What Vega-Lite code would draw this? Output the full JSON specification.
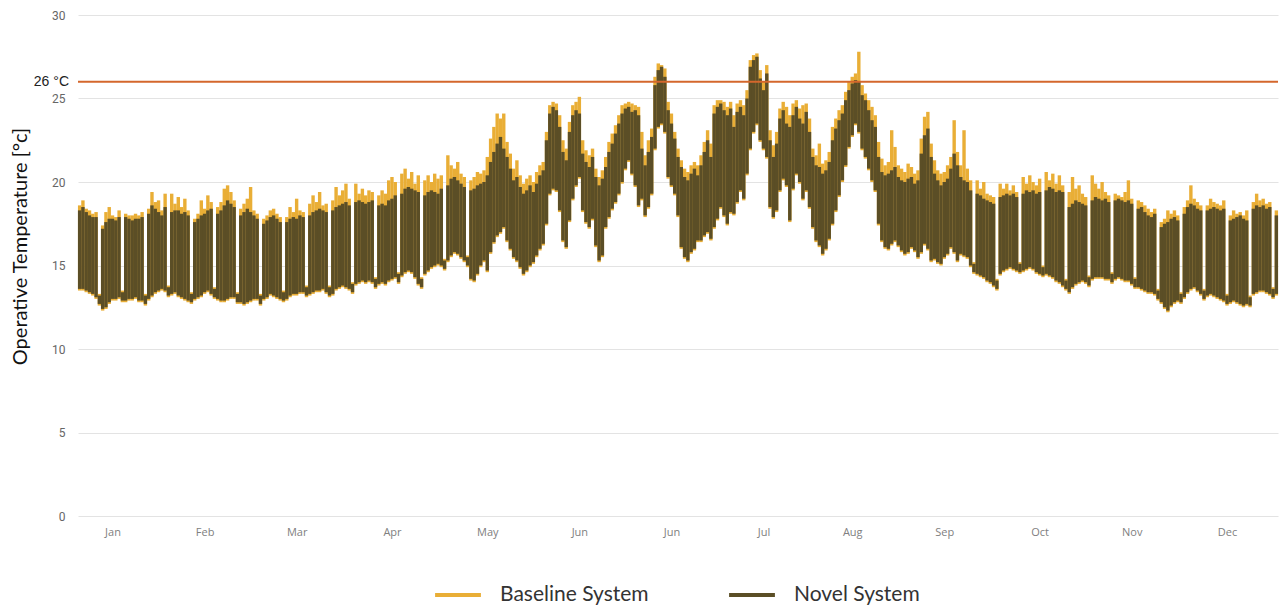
{
"$schema": "https://vega.github.io/schema/vega-lite/v6.json",
"width": 1200,
"height": 501,
"autosize": {"type": "none"},
"padding": {"left": 78, "top": 15, "right": 2, "bottom": 94},
"background": "white",
"config": {"view": {"stroke": null}, "font": "Lato"},
"data": {"values": [
{"day":0,"nLo":13.6,"nHi":18.3,"bLo":13.5,"bHi":18.6},
{"day":1,"nLo":13.6,"nHi":18.5,"bLo":13.5,"bHi":18.9},
{"day":2,"nLo":13.5,"nHi":18.2,"bLo":13.4,"bHi":18.4},
{"day":3,"nLo":13.4,"nHi":18.0,"bLo":13.3,"bHi":18.3},
{"day":4,"nLo":13.3,"nHi":17.9,"bLo":13.2,"bHi":18.1},
{"day":5,"nLo":13.1,"nHi":17.9,"bLo":13.0,"bHi":18.2},
{"day":6,"nLo":12.7,"nHi":13.2,"bLo":12.6,"bHi":13.3},
{"day":7,"nLo":12.4,"nHi":17.2,"bLo":12.3,"bHi":17.4},
{"day":8,"nLo":12.5,"nHi":17.6,"bLo":12.4,"bHi":18.2},
{"day":9,"nLo":12.8,"nHi":17.8,"bLo":12.7,"bHi":18.5},
{"day":10,"nLo":13.0,"nHi":17.8,"bLo":12.9,"bHi":18.0},
{"day":11,"nLo":13.0,"nHi":17.7,"bLo":12.9,"bHi":17.9},
{"day":12,"nLo":13.1,"nHi":17.9,"bLo":13.0,"bHi":18.3},
{"day":13,"nLo":12.9,"nHi":13.4,"bLo":12.8,"bHi":13.5},
{"day":14,"nLo":12.9,"nHi":17.9,"bLo":12.8,"bHi":18.1},
{"day":15,"nLo":13.0,"nHi":17.8,"bLo":12.9,"bHi":18.0},
{"day":16,"nLo":13.0,"nHi":17.7,"bLo":12.9,"bHi":18.0},
{"day":17,"nLo":13.1,"nHi":17.8,"bLo":13.0,"bHi":18.1},
{"day":18,"nLo":12.9,"nHi":17.8,"bLo":12.8,"bHi":18.0},
{"day":19,"nLo":12.9,"nHi":17.9,"bLo":12.8,"bHi":18.2},
{"day":20,"nLo":12.7,"nHi":13.2,"bLo":12.6,"bHi":13.3},
{"day":21,"nLo":13.0,"nHi":18.1,"bLo":12.9,"bHi":18.4},
{"day":22,"nLo":13.2,"nHi":18.6,"bLo":13.1,"bHi":19.4},
{"day":23,"nLo":13.4,"nHi":18.4,"bLo":13.3,"bHi":18.8},
{"day":24,"nLo":13.5,"nHi":18.2,"bLo":13.4,"bHi":18.9},
{"day":25,"nLo":13.6,"nHi":18.0,"bLo":13.5,"bHi":18.3},
{"day":26,"nLo":13.5,"nHi":18.5,"bLo":13.4,"bHi":19.3},
{"day":27,"nLo":13.2,"nHi":13.7,"bLo":13.1,"bHi":13.8},
{"day":28,"nLo":13.3,"nHi":18.2,"bLo":13.2,"bHi":19.3},
{"day":29,"nLo":13.4,"nHi":18.3,"bLo":13.3,"bHi":18.7},
{"day":30,"nLo":13.2,"nHi":18.3,"bLo":13.1,"bHi":19.1},
{"day":31,"nLo":13.1,"nHi":18.1,"bLo":13.0,"bHi":18.5},
{"day":32,"nLo":13.0,"nHi":18.2,"bLo":12.9,"bHi":19.0},
{"day":33,"nLo":12.9,"nHi":18.0,"bLo":12.8,"bHi":18.3},
{"day":34,"nLo":12.8,"nHi":13.3,"bLo":12.7,"bHi":13.4},
{"day":35,"nLo":13.0,"nHi":17.6,"bLo":12.9,"bHi":17.8},
{"day":36,"nLo":13.1,"nHi":17.8,"bLo":13.0,"bHi":18.1},
{"day":37,"nLo":13.2,"nHi":18.0,"bLo":13.1,"bHi":18.9},
{"day":38,"nLo":13.4,"nHi":18.1,"bLo":13.3,"bHi":18.4},
{"day":39,"nLo":13.5,"nHi":18.3,"bLo":13.4,"bHi":19.2},
{"day":40,"nLo":13.3,"nHi":18.4,"bLo":13.2,"bHi":18.8},
{"day":41,"nLo":13.1,"nHi":13.6,"bLo":13.0,"bHi":13.7},
{"day":42,"nLo":13.0,"nHi":18.1,"bLo":12.9,"bHi":18.5},
{"day":43,"nLo":12.9,"nHi":18.3,"bLo":12.8,"bHi":18.8},
{"day":44,"nLo":12.9,"nHi":18.6,"bLo":12.8,"bHi":19.6},
{"day":45,"nLo":13.0,"nHi":18.9,"bLo":12.9,"bHi":19.8},
{"day":46,"nLo":13.1,"nHi":18.7,"bLo":13.0,"bHi":19.4},
{"day":47,"nLo":13.1,"nHi":18.5,"bLo":13.0,"bHi":18.9},
{"day":48,"nLo":12.8,"nHi":13.3,"bLo":12.7,"bHi":13.4},
{"day":49,"nLo":12.8,"nHi":18.0,"bLo":12.7,"bHi":18.4},
{"day":50,"nLo":12.7,"nHi":18.2,"bLo":12.6,"bHi":18.7},
{"day":51,"nLo":12.8,"nHi":18.4,"bLo":12.7,"bHi":19.0},
{"day":52,"nLo":12.9,"nHi":18.2,"bLo":12.8,"bHi":19.7},
{"day":53,"nLo":13.0,"nHi":18.0,"bLo":12.9,"bHi":18.3},
{"day":54,"nLo":13.0,"nHi":17.8,"bLo":12.9,"bHi":18.1},
{"day":55,"nLo":12.7,"nHi":13.2,"bLo":12.6,"bHi":13.3},
{"day":56,"nLo":13.0,"nHi":17.5,"bLo":12.9,"bHi":17.8},
{"day":57,"nLo":13.1,"nHi":17.7,"bLo":13.0,"bHi":18.0},
{"day":58,"nLo":13.3,"nHi":17.9,"bLo":13.2,"bHi":18.3},
{"day":59,"nLo":13.2,"nHi":18.0,"bLo":13.1,"bHi":18.4},
{"day":60,"nLo":13.1,"nHi":17.8,"bLo":13.0,"bHi":18.1},
{"day":61,"nLo":13.0,"nHi":17.6,"bLo":12.9,"bHi":17.9},
{"day":62,"nLo":12.9,"nHi":13.4,"bLo":12.8,"bHi":13.5},
{"day":63,"nLo":13.0,"nHi":17.6,"bLo":12.9,"bHi":17.9},
{"day":64,"nLo":13.2,"nHi":17.8,"bLo":13.1,"bHi":18.5},
{"day":65,"nLo":13.3,"nHi":17.9,"bLo":13.2,"bHi":18.2},
{"day":66,"nLo":13.3,"nHi":17.8,"bLo":13.2,"bHi":19.0},
{"day":67,"nLo":13.4,"nHi":18.0,"bLo":13.3,"bHi":18.3},
{"day":68,"nLo":13.4,"nHi":17.9,"bLo":13.3,"bHi":18.2},
{"day":69,"nLo":13.2,"nHi":13.7,"bLo":13.1,"bHi":13.8},
{"day":70,"nLo":13.3,"nHi":18.0,"bLo":13.2,"bHi":18.7},
{"day":71,"nLo":13.4,"nHi":18.2,"bLo":13.3,"bHi":19.2},
{"day":72,"nLo":13.5,"nHi":18.3,"bLo":13.4,"bHi":18.8},
{"day":73,"nLo":13.5,"nHi":18.4,"bLo":13.4,"bHi":19.4},
{"day":74,"nLo":13.6,"nHi":18.3,"bLo":13.5,"bHi":18.6},
{"day":75,"nLo":13.4,"nHi":18.2,"bLo":13.3,"bHi":18.7},
{"day":76,"nLo":13.2,"nHi":13.7,"bLo":13.1,"bHi":13.8},
{"day":77,"nLo":13.3,"nHi":18.3,"bLo":13.2,"bHi":18.9},
{"day":78,"nLo":13.6,"nHi":18.5,"bLo":13.5,"bHi":19.7},
{"day":79,"nLo":13.7,"nHi":18.6,"bLo":13.6,"bHi":19.2},
{"day":80,"nLo":13.8,"nHi":18.7,"bLo":13.7,"bHi":19.5},
{"day":81,"nLo":13.7,"nHi":18.8,"bLo":13.6,"bHi":19.9},
{"day":82,"nLo":13.6,"nHi":18.6,"bLo":13.5,"bHi":19.0},
{"day":83,"nLo":13.4,"nHi":13.9,"bLo":13.3,"bHi":14.0},
{"day":84,"nLo":13.9,"nHi":18.8,"bLo":13.8,"bHi":19.9},
{"day":85,"nLo":14.0,"nHi":18.9,"bLo":13.9,"bHi":19.3},
{"day":86,"nLo":14.1,"nHi":18.8,"bLo":14.0,"bHi":19.6},
{"day":87,"nLo":14.0,"nHi":18.7,"bLo":13.9,"bHi":19.2},
{"day":88,"nLo":14.1,"nHi":18.8,"bLo":14.0,"bHi":19.5},
{"day":89,"nLo":14.0,"nHi":18.9,"bLo":13.9,"bHi":19.4},
{"day":90,"nLo":13.7,"nHi":14.2,"bLo":13.6,"bHi":14.3},
{"day":91,"nLo":13.9,"nHi":18.6,"bLo":13.8,"bHi":19.2},
{"day":92,"nLo":14.0,"nHi":18.7,"bLo":13.9,"bHi":19.5},
{"day":93,"nLo":13.9,"nHi":18.6,"bLo":13.8,"bHi":19.3},
{"day":94,"nLo":14.1,"nHi":18.9,"bLo":14.0,"bHi":20.1},
{"day":95,"nLo":14.2,"nHi":19.0,"bLo":14.1,"bHi":20.3},
{"day":96,"nLo":14.3,"nHi":19.2,"bLo":14.2,"bHi":20.0},
{"day":97,"nLo":14.0,"nHi":14.5,"bLo":13.9,"bHi":14.6},
{"day":98,"nLo":14.4,"nHi":19.3,"bLo":14.3,"bHi":20.5},
{"day":99,"nLo":14.6,"nHi":19.6,"bLo":14.5,"bHi":20.8},
{"day":100,"nLo":14.7,"nHi":19.7,"bLo":14.6,"bHi":20.2},
{"day":101,"nLo":14.6,"nHi":19.6,"bLo":14.5,"bHi":20.6},
{"day":102,"nLo":14.3,"nHi":19.5,"bLo":14.2,"bHi":19.9},
{"day":103,"nLo":13.9,"nHi":19.4,"bLo":13.8,"bHi":20.4},
{"day":104,"nLo":13.7,"nHi":14.2,"bLo":13.6,"bHi":14.3},
{"day":105,"nLo":14.5,"nHi":19.2,"bLo":14.4,"bHi":20.1},
{"day":106,"nLo":14.7,"nHi":19.4,"bLo":14.6,"bHi":20.4},
{"day":107,"nLo":14.9,"nHi":19.5,"bLo":14.8,"bHi":20.0},
{"day":108,"nLo":15.0,"nHi":19.4,"bLo":14.9,"bHi":20.5},
{"day":109,"nLo":15.1,"nHi":19.3,"bLo":15.0,"bHi":20.2},
{"day":110,"nLo":15.0,"nHi":19.6,"bLo":14.9,"bHi":20.4},
{"day":111,"nLo":14.8,"nHi":15.3,"bLo":14.7,"bHi":15.4},
{"day":112,"nLo":15.3,"nHi":19.8,"bLo":15.2,"bHi":21.6},
{"day":113,"nLo":15.6,"nHi":20.2,"bLo":15.5,"bHi":21.0},
{"day":114,"nLo":15.8,"nHi":20.3,"bLo":15.7,"bHi":20.8},
{"day":115,"nLo":15.7,"nHi":20.1,"bLo":15.6,"bHi":21.2},
{"day":116,"nLo":15.5,"nHi":19.9,"bLo":15.4,"bHi":20.5},
{"day":117,"nLo":15.3,"nHi":19.7,"bLo":15.2,"bHi":20.3},
{"day":118,"nLo":15.0,"nHi":15.5,"bLo":14.9,"bHi":15.6},
{"day":119,"nLo":14.2,"nHi":19.5,"bLo":14.1,"bHi":20.1},
{"day":120,"nLo":14.1,"nHi":19.6,"bLo":14.0,"bHi":20.3},
{"day":121,"nLo":14.5,"nHi":19.8,"bLo":14.4,"bHi":20.6},
{"day":122,"nLo":15.0,"nHi":19.9,"bLo":14.9,"bHi":20.5},
{"day":123,"nLo":15.3,"nHi":20.0,"bLo":15.2,"bHi":20.7},
{"day":124,"nLo":14.7,"nHi":20.4,"bLo":14.6,"bHi":21.5},
{"day":125,"nLo":15.8,"nHi":21.2,"bLo":15.7,"bHi":22.6},
{"day":126,"nLo":16.4,"nHi":21.8,"bLo":16.3,"bHi":23.3},
{"day":127,"nLo":16.8,"nHi":22.3,"bLo":16.7,"bHi":24.1},
{"day":128,"nLo":17.0,"nHi":22.7,"bLo":16.9,"bHi":23.8},
{"day":129,"nLo":17.3,"nHi":22.0,"bLo":17.2,"bHi":24.1},
{"day":130,"nLo":16.5,"nHi":21.5,"bLo":16.4,"bHi":22.4},
{"day":131,"nLo":16.0,"nHi":20.8,"bLo":15.9,"bHi":21.7},
{"day":132,"nLo":15.5,"nHi":20.1,"bLo":15.4,"bHi":20.8},
{"day":133,"nLo":15.3,"nHi":20.3,"bLo":15.2,"bHi":21.3},
{"day":134,"nLo":14.9,"nHi":19.7,"bLo":14.8,"bHi":20.4},
{"day":135,"nLo":14.5,"nHi":19.3,"bLo":14.4,"bHi":19.9},
{"day":136,"nLo":14.7,"nHi":19.5,"bLo":14.6,"bHi":20.2},
{"day":137,"nLo":15.0,"nHi":19.8,"bLo":14.9,"bHi":20.4},
{"day":138,"nLo":15.2,"nHi":19.4,"bLo":15.1,"bHi":20.0},
{"day":139,"nLo":15.6,"nHi":19.9,"bLo":15.5,"bHi":20.6},
{"day":140,"nLo":16.0,"nHi":20.4,"bLo":15.9,"bHi":21.0},
{"day":141,"nLo":16.3,"nHi":20.7,"bLo":16.2,"bHi":21.2},
{"day":142,"nLo":17.5,"nHi":22.5,"bLo":17.4,"bHi":23.0},
{"day":143,"nLo":19.3,"nHi":24.1,"bLo":19.2,"bHi":24.6},
{"day":144,"nLo":19.6,"nHi":24.5,"bLo":19.5,"bHi":24.8},
{"day":145,"nLo":19.5,"nHi":24.3,"bLo":19.4,"bHi":24.7},
{"day":146,"nLo":18.3,"nHi":23.3,"bLo":18.2,"bHi":24.0},
{"day":147,"nLo":16.5,"nHi":21.8,"bLo":16.4,"bHi":22.5},
{"day":148,"nLo":16.1,"nHi":21.3,"bLo":16.0,"bHi":22.0},
{"day":149,"nLo":17.7,"nHi":23.0,"bLo":17.6,"bHi":23.6},
{"day":150,"nLo":19.0,"nHi":24.0,"bLo":18.9,"bHi":24.6},
{"day":151,"nLo":19.8,"nHi":24.3,"bLo":19.7,"bHi":24.8},
{"day":152,"nLo":20.3,"nHi":24.1,"bLo":20.2,"bHi":25.1},
{"day":153,"nLo":18.3,"nHi":21.7,"bLo":18.2,"bHi":22.5},
{"day":154,"nLo":17.6,"nHi":21.2,"bLo":17.5,"bHi":21.9},
{"day":155,"nLo":17.3,"nHi":20.9,"bLo":17.2,"bHi":21.6},
{"day":156,"nLo":17.8,"nHi":21.5,"bLo":17.7,"bHi":22.0},
{"day":157,"nLo":16.2,"nHi":20.3,"bLo":16.1,"bHi":20.8},
{"day":158,"nLo":15.3,"nHi":19.8,"bLo":15.2,"bHi":20.3},
{"day":159,"nLo":15.6,"nHi":20.2,"bLo":15.5,"bHi":20.7},
{"day":160,"nLo":17.3,"nHi":20.9,"bLo":17.2,"bHi":21.5},
{"day":161,"nLo":17.9,"nHi":21.8,"bLo":17.8,"bHi":22.4},
{"day":162,"nLo":18.4,"nHi":22.3,"bLo":18.3,"bHi":22.9},
{"day":163,"nLo":18.8,"nHi":22.9,"bLo":18.7,"bHi":23.4},
{"day":164,"nLo":19.3,"nHi":23.5,"bLo":19.2,"bHi":24.0},
{"day":165,"nLo":20.0,"nHi":24.1,"bLo":19.9,"bHi":24.6},
{"day":166,"nLo":20.8,"nHi":24.4,"bLo":20.7,"bHi":24.7},
{"day":167,"nLo":21.3,"nHi":24.5,"bLo":21.2,"bHi":24.8},
{"day":168,"nLo":20.5,"nHi":24.2,"bLo":20.4,"bHi":24.7},
{"day":169,"nLo":19.8,"nHi":24.3,"bLo":19.7,"bHi":24.6},
{"day":170,"nLo":18.6,"nHi":24.0,"bLo":18.5,"bHi":24.5},
{"day":171,"nLo":19.0,"nHi":22.0,"bLo":18.9,"bHi":23.0},
{"day":172,"nLo":18.0,"nHi":21.0,"bLo":17.9,"bHi":21.6},
{"day":173,"nLo":18.5,"nHi":21.8,"bLo":18.4,"bHi":22.5},
{"day":174,"nLo":19.3,"nHi":22.7,"bLo":19.2,"bHi":23.2},
{"day":175,"nLo":22.0,"nHi":25.8,"bLo":21.9,"bHi":26.3},
{"day":176,"nLo":23.3,"nHi":26.7,"bLo":23.2,"bHi":27.1},
{"day":177,"nLo":23.5,"nHi":26.9,"bLo":23.4,"bHi":27.0},
{"day":178,"nLo":23.0,"nHi":26.3,"bLo":22.9,"bHi":26.8},
{"day":179,"nLo":20.3,"nHi":24.3,"bLo":20.2,"bHi":24.8},
{"day":180,"nLo":19.8,"nHi":23.5,"bLo":19.7,"bHi":24.1},
{"day":181,"nLo":19.3,"nHi":22.6,"bLo":19.2,"bHi":23.0},
{"day":182,"nLo":18.0,"nHi":21.5,"bLo":17.9,"bHi":22.0},
{"day":183,"nLo":16.1,"nHi":20.9,"bLo":16.0,"bHi":21.3},
{"day":184,"nLo":15.5,"nHi":20.3,"bLo":15.4,"bHi":20.8},
{"day":185,"nLo":15.3,"nHi":20.1,"bLo":15.2,"bHi":20.6},
{"day":186,"nLo":15.8,"nHi":20.5,"bLo":15.7,"bHi":21.0},
{"day":187,"nLo":16.0,"nHi":20.8,"bLo":15.9,"bHi":21.2},
{"day":188,"nLo":16.5,"nHi":20.4,"bLo":16.4,"bHi":21.0},
{"day":189,"nLo":16.5,"nHi":21.0,"bLo":16.4,"bHi":21.6},
{"day":190,"nLo":16.8,"nHi":21.8,"bLo":16.7,"bHi":22.4},
{"day":191,"nLo":17.0,"nHi":22.5,"bLo":16.9,"bHi":23.1},
{"day":192,"nLo":16.6,"nHi":21.5,"bLo":16.5,"bHi":22.3},
{"day":193,"nLo":17.3,"nHi":24.1,"bLo":17.2,"bHi":24.6},
{"day":194,"nLo":17.8,"nHi":24.5,"bLo":17.7,"bHi":24.9},
{"day":195,"nLo":18.5,"nHi":24.7,"bLo":18.4,"bHi":24.9},
{"day":196,"nLo":18.0,"nHi":24.3,"bLo":17.9,"bHi":24.8},
{"day":197,"nLo":17.5,"nHi":24.0,"bLo":17.4,"bHi":24.5},
{"day":198,"nLo":18.2,"nHi":24.4,"bLo":18.1,"bHi":24.8},
{"day":199,"nLo":18.1,"nHi":23.3,"bLo":18.0,"bHi":24.0},
{"day":200,"nLo":18.8,"nHi":24.2,"bLo":18.7,"bHi":24.7},
{"day":201,"nLo":19.5,"nHi":24.5,"bLo":19.4,"bHi":24.9},
{"day":202,"nLo":19.0,"nHi":24.0,"bLo":18.9,"bHi":24.6},
{"day":203,"nLo":20.5,"nHi":25.0,"bLo":20.4,"bHi":25.5},
{"day":204,"nLo":22.0,"nHi":26.9,"bLo":21.9,"bHi":27.3},
{"day":205,"nLo":23.0,"nHi":27.3,"bLo":22.9,"bHi":27.6},
{"day":206,"nLo":23.5,"nHi":27.5,"bLo":23.4,"bHi":27.7},
{"day":207,"nLo":22.5,"nHi":26.2,"bLo":22.4,"bHi":26.7},
{"day":208,"nLo":22.0,"nHi":25.5,"bLo":21.9,"bHi":26.0},
{"day":209,"nLo":21.5,"nHi":26.5,"bLo":21.4,"bHi":27.0},
{"day":210,"nLo":18.5,"nHi":22.5,"bLo":18.4,"bHi":23.1},
{"day":211,"nLo":17.9,"nHi":21.5,"bLo":17.8,"bHi":22.2},
{"day":212,"nLo":18.3,"nHi":22.3,"bLo":18.2,"bHi":23.0},
{"day":213,"nLo":19.5,"nHi":23.8,"bLo":19.4,"bHi":24.4},
{"day":214,"nLo":20.2,"nHi":24.3,"bLo":20.1,"bHi":24.8},
{"day":215,"nLo":19.8,"nHi":23.5,"bLo":19.7,"bHi":24.5},
{"day":216,"nLo":17.7,"nHi":23.3,"bLo":17.6,"bHi":24.0},
{"day":217,"nLo":19.6,"nHi":24.0,"bLo":19.5,"bHi":24.7},
{"day":218,"nLo":20.5,"nHi":24.5,"bLo":20.4,"bHi":24.9},
{"day":219,"nLo":20.0,"nHi":23.8,"bLo":19.9,"bHi":24.4},
{"day":220,"nLo":19.0,"nHi":23.5,"bLo":18.9,"bHi":24.6},
{"day":221,"nLo":19.5,"nHi":24.2,"bLo":19.4,"bHi":24.7},
{"day":222,"nLo":18.5,"nHi":23.0,"bLo":18.4,"bHi":23.8},
{"day":223,"nLo":17.3,"nHi":21.5,"bLo":17.2,"bHi":22.0},
{"day":224,"nLo":16.5,"nHi":21.0,"bLo":16.4,"bHi":21.6},
{"day":225,"nLo":16.2,"nHi":20.9,"bLo":16.1,"bHi":22.3},
{"day":226,"nLo":15.7,"nHi":20.5,"bLo":15.6,"bHi":21.1},
{"day":227,"nLo":16.0,"nHi":20.7,"bLo":15.9,"bHi":21.3},
{"day":228,"nLo":16.6,"nHi":21.2,"bLo":16.5,"bHi":21.8},
{"day":229,"nLo":17.5,"nHi":22.5,"bLo":17.4,"bHi":23.3},
{"day":230,"nLo":18.3,"nHi":23.2,"bLo":18.2,"bHi":23.8},
{"day":231,"nLo":19.2,"nHi":23.7,"bLo":19.1,"bHi":24.3},
{"day":232,"nLo":20.1,"nHi":24.1,"bLo":20.0,"bHi":24.6},
{"day":233,"nLo":21.0,"nHi":24.9,"bLo":20.9,"bHi":25.4},
{"day":234,"nLo":22.1,"nHi":25.5,"bLo":22.0,"bHi":26.0},
{"day":235,"nLo":22.8,"nHi":25.9,"bLo":22.7,"bHi":26.3},
{"day":236,"nLo":23.5,"nHi":26.1,"bLo":23.4,"bHi":26.5},
{"day":237,"nLo":23.0,"nHi":26.0,"bLo":22.9,"bHi":27.8},
{"day":238,"nLo":22.0,"nHi":25.2,"bLo":21.9,"bHi":25.8},
{"day":239,"nLo":21.5,"nHi":24.9,"bLo":21.4,"bHi":25.3},
{"day":240,"nLo":20.8,"nHi":24.3,"bLo":20.7,"bHi":24.9},
{"day":241,"nLo":20.1,"nHi":23.7,"bLo":20.0,"bHi":24.5},
{"day":242,"nLo":19.5,"nHi":23.3,"bLo":19.4,"bHi":24.0},
{"day":243,"nLo":17.5,"nHi":21.5,"bLo":17.4,"bHi":22.4},
{"day":244,"nLo":16.5,"nHi":20.6,"bLo":16.4,"bHi":21.4},
{"day":245,"nLo":16.1,"nHi":20.4,"bLo":16.0,"bHi":21.0},
{"day":246,"nLo":16.0,"nHi":20.5,"bLo":15.9,"bHi":21.2},
{"day":247,"nLo":16.3,"nHi":20.7,"bLo":16.2,"bHi":23.1},
{"day":248,"nLo":16.5,"nHi":20.9,"bLo":16.4,"bHi":22.1},
{"day":249,"nLo":16.2,"nHi":20.3,"bLo":16.1,"bHi":21.0},
{"day":250,"nLo":15.9,"nHi":20.1,"bLo":15.8,"bHi":20.8},
{"day":251,"nLo":15.7,"nHi":20.0,"bLo":15.6,"bHi":20.6},
{"day":252,"nLo":15.8,"nHi":20.2,"bLo":15.7,"bHi":21.1},
{"day":253,"nLo":16.1,"nHi":20.3,"bLo":16.0,"bHi":20.9},
{"day":254,"nLo":15.9,"nHi":19.9,"bLo":15.8,"bHi":20.5},
{"day":255,"nLo":15.5,"nHi":20.1,"bLo":15.4,"bHi":20.7},
{"day":256,"nLo":15.8,"nHi":21.7,"bLo":15.7,"bHi":22.6},
{"day":257,"nLo":16.3,"nHi":22.8,"bLo":16.2,"bHi":23.9},
{"day":258,"nLo":16.0,"nHi":23.2,"bLo":15.9,"bHi":24.2},
{"day":259,"nLo":15.3,"nHi":21.5,"bLo":15.2,"bHi":22.3},
{"day":260,"nLo":15.4,"nHi":20.5,"bLo":15.3,"bHi":21.3},
{"day":261,"nLo":15.2,"nHi":20.1,"bLo":15.1,"bHi":20.7},
{"day":262,"nLo":15.1,"nHi":19.8,"bLo":15.0,"bHi":20.5},
{"day":263,"nLo":15.5,"nHi":20.0,"bLo":15.4,"bHi":20.6},
{"day":264,"nLo":15.7,"nHi":20.2,"bLo":15.6,"bHi":21.0},
{"day":265,"nLo":16.1,"nHi":20.8,"bLo":16.0,"bHi":21.5},
{"day":266,"nLo":15.8,"nHi":21.7,"bLo":15.7,"bHi":23.7},
{"day":267,"nLo":15.3,"nHi":21.0,"bLo":15.2,"bHi":21.8},
{"day":268,"nLo":15.7,"nHi":20.3,"bLo":15.6,"bHi":21.0},
{"day":269,"nLo":15.6,"nHi":20.1,"bLo":15.5,"bHi":23.1},
{"day":270,"nLo":15.5,"nHi":20.0,"bLo":15.4,"bHi":20.8},
{"day":271,"nLo":15.0,"nHi":19.5,"bLo":14.9,"bHi":20.1},
{"day":272,"nLo":14.6,"nHi":15.1,"bLo":14.5,"bHi":15.2},
{"day":273,"nLo":14.5,"nHi":19.3,"bLo":14.4,"bHi":20.1},
{"day":274,"nLo":14.4,"nHi":19.2,"bLo":14.3,"bHi":19.6},
{"day":275,"nLo":14.3,"nHi":19.0,"bLo":14.2,"bHi":20.0},
{"day":276,"nLo":14.1,"nHi":18.9,"bLo":14.0,"bHi":19.3},
{"day":277,"nLo":14.0,"nHi":18.8,"bLo":13.9,"bHi":19.2},
{"day":278,"nLo":13.8,"nHi":18.7,"bLo":13.7,"bHi":19.1},
{"day":279,"nLo":13.6,"nHi":14.1,"bLo":13.5,"bHi":14.2},
{"day":280,"nLo":14.5,"nHi":19.1,"bLo":14.4,"bHi":19.9},
{"day":281,"nLo":14.7,"nHi":19.2,"bLo":14.6,"bHi":19.6},
{"day":282,"nLo":14.8,"nHi":19.3,"bLo":14.7,"bHi":19.9},
{"day":283,"nLo":14.9,"nHi":19.2,"bLo":14.8,"bHi":19.5},
{"day":284,"nLo":14.8,"nHi":19.3,"bLo":14.7,"bHi":19.8},
{"day":285,"nLo":14.7,"nHi":19.1,"bLo":14.6,"bHi":19.4},
{"day":286,"nLo":14.6,"nHi":15.1,"bLo":14.5,"bHi":15.2},
{"day":287,"nLo":14.7,"nHi":19.3,"bLo":14.6,"bHi":20.3},
{"day":288,"nLo":14.8,"nHi":19.5,"bLo":14.7,"bHi":19.9},
{"day":289,"nLo":14.9,"nHi":19.4,"bLo":14.8,"bHi":20.4},
{"day":290,"nLo":14.8,"nHi":19.5,"bLo":14.7,"bHi":20.0},
{"day":291,"nLo":14.6,"nHi":19.3,"bLo":14.5,"bHi":19.8},
{"day":292,"nLo":14.5,"nHi":19.4,"bLo":14.4,"bHi":20.2},
{"day":293,"nLo":14.4,"nHi":14.9,"bLo":14.3,"bHi":15.0},
{"day":294,"nLo":14.5,"nHi":19.5,"bLo":14.4,"bHi":20.6},
{"day":295,"nLo":14.4,"nHi":19.7,"bLo":14.3,"bHi":20.1},
{"day":296,"nLo":14.3,"nHi":19.6,"bLo":14.2,"bHi":20.5},
{"day":297,"nLo":14.1,"nHi":19.4,"bLo":14.0,"bHi":19.9},
{"day":298,"nLo":14.0,"nHi":19.5,"bLo":13.9,"bHi":20.4},
{"day":299,"nLo":13.8,"nHi":19.4,"bLo":13.7,"bHi":19.8},
{"day":300,"nLo":13.6,"nHi":14.1,"bLo":13.5,"bHi":14.2},
{"day":301,"nLo":13.4,"nHi":18.5,"bLo":13.3,"bHi":19.4},
{"day":302,"nLo":13.7,"nHi":18.7,"bLo":13.6,"bHi":20.3},
{"day":303,"nLo":13.9,"nHi":18.9,"bLo":13.8,"bHi":19.6},
{"day":304,"nLo":14.0,"nHi":18.8,"bLo":13.9,"bHi":19.8},
{"day":305,"nLo":14.1,"nHi":18.7,"bLo":14.0,"bHi":19.3},
{"day":306,"nLo":14.0,"nHi":18.6,"bLo":13.9,"bHi":19.1},
{"day":307,"nLo":13.8,"nHi":14.3,"bLo":13.7,"bHi":14.4},
{"day":308,"nLo":14.2,"nHi":18.9,"bLo":14.1,"bHi":20.4},
{"day":309,"nLo":14.3,"nHi":19.1,"bLo":14.2,"bHi":19.9},
{"day":310,"nLo":14.3,"nHi":19.0,"bLo":14.2,"bHi":19.6},
{"day":311,"nLo":14.3,"nHi":18.9,"bLo":14.2,"bHi":20.0},
{"day":312,"nLo":14.2,"nHi":19.0,"bLo":14.1,"bHi":19.4},
{"day":313,"nLo":14.2,"nHi":18.8,"bLo":14.1,"bHi":19.2},
{"day":314,"nLo":14.0,"nHi":14.5,"bLo":13.9,"bHi":14.6},
{"day":315,"nLo":14.2,"nHi":18.9,"bLo":14.1,"bHi":19.3},
{"day":316,"nLo":14.3,"nHi":19.0,"bLo":14.2,"bHi":19.2},
{"day":317,"nLo":14.2,"nHi":18.9,"bLo":14.1,"bHi":19.1},
{"day":318,"nLo":14.1,"nHi":18.8,"bLo":14.0,"bHi":19.4},
{"day":319,"nLo":14.1,"nHi":18.9,"bLo":14.0,"bHi":20.1},
{"day":320,"nLo":13.9,"nHi":18.7,"bLo":13.8,"bHi":19.0},
{"day":321,"nLo":13.7,"nHi":14.2,"bLo":13.6,"bHi":14.3},
{"day":322,"nLo":13.7,"nHi":18.4,"bLo":13.6,"bHi":18.9},
{"day":323,"nLo":13.6,"nHi":18.5,"bLo":13.5,"bHi":18.8},
{"day":324,"nLo":13.5,"nHi":18.2,"bLo":13.4,"bHi":18.6},
{"day":325,"nLo":13.4,"nHi":18.0,"bLo":13.3,"bHi":18.4},
{"day":326,"nLo":13.4,"nHi":17.9,"bLo":13.3,"bHi":18.2},
{"day":327,"nLo":13.3,"nHi":18.1,"bLo":13.2,"bHi":18.4},
{"day":328,"nLo":13.0,"nHi":13.5,"bLo":12.9,"bHi":13.6},
{"day":329,"nLo":12.8,"nHi":17.3,"bLo":12.7,"bHi":17.6},
{"day":330,"nLo":12.5,"nHi":17.5,"bLo":12.4,"bHi":17.8},
{"day":331,"nLo":12.3,"nHi":17.6,"bLo":12.2,"bHi":18.3},
{"day":332,"nLo":12.6,"nHi":17.8,"bLo":12.5,"bHi":18.1},
{"day":333,"nLo":12.8,"nHi":17.9,"bLo":12.7,"bHi":18.3},
{"day":334,"nLo":12.9,"nHi":17.7,"bLo":12.8,"bHi":18.0},
{"day":335,"nLo":12.8,"nHi":13.3,"bLo":12.7,"bHi":13.4},
{"day":336,"nLo":13.1,"nHi":18.1,"bLo":13.0,"bHi":18.5},
{"day":337,"nLo":13.4,"nHi":18.5,"bLo":13.3,"bHi":18.9},
{"day":338,"nLo":13.6,"nHi":18.7,"bLo":13.5,"bHi":19.8},
{"day":339,"nLo":13.7,"nHi":18.6,"bLo":13.6,"bHi":19.0},
{"day":340,"nLo":13.5,"nHi":18.4,"bLo":13.4,"bHi":18.8},
{"day":341,"nLo":13.3,"nHi":18.3,"bLo":13.2,"bHi":18.6},
{"day":342,"nLo":13.0,"nHi":13.5,"bLo":12.9,"bHi":13.6},
{"day":343,"nLo":13.2,"nHi":18.3,"bLo":13.1,"bHi":18.6},
{"day":344,"nLo":13.3,"nHi":18.4,"bLo":13.2,"bHi":19.0},
{"day":345,"nLo":13.2,"nHi":18.5,"bLo":13.1,"bHi":18.8},
{"day":346,"nLo":13.1,"nHi":18.4,"bLo":13.0,"bHi":18.7},
{"day":347,"nLo":13.0,"nHi":18.3,"bLo":12.9,"bHi":18.6},
{"day":348,"nLo":12.9,"nHi":18.4,"bLo":12.8,"bHi":18.9},
{"day":349,"nLo":12.7,"nHi":13.2,"bLo":12.6,"bHi":13.3},
{"day":350,"nLo":12.8,"nHi":17.7,"bLo":12.7,"bHi":18.0},
{"day":351,"nLo":12.9,"nHi":17.8,"bLo":12.8,"bHi":18.3},
{"day":352,"nLo":12.8,"nHi":17.9,"bLo":12.7,"bHi":18.1},
{"day":353,"nLo":12.7,"nHi":18.0,"bLo":12.6,"bHi":18.2},
{"day":354,"nLo":12.6,"nHi":17.8,"bLo":12.5,"bHi":18.0},
{"day":355,"nLo":12.7,"nHi":17.7,"bLo":12.6,"bHi":18.3},
{"day":356,"nLo":12.6,"nHi":13.1,"bLo":12.5,"bHi":13.2},
{"day":357,"nLo":13.3,"nHi":18.4,"bLo":13.2,"bHi":18.8},
{"day":358,"nLo":13.4,"nHi":18.6,"bLo":13.3,"bHi":19.3},
{"day":359,"nLo":13.5,"nHi":18.5,"bLo":13.4,"bHi":18.9},
{"day":360,"nLo":13.5,"nHi":18.6,"bLo":13.4,"bHi":19.0},
{"day":361,"nLo":13.4,"nHi":18.4,"bLo":13.3,"bHi":18.7},
{"day":362,"nLo":13.3,"nHi":18.5,"bLo":13.2,"bHi":18.8},
{"day":363,"nLo":13.1,"nHi":13.6,"bLo":13.0,"bHi":13.7},
{"day":364,"nLo":13.3,"nHi":18.0,"bLo":13.2,"bHi":18.3}
]},
"layer": [
{
"mark": {"type": "rule", "strokeWidth": 3.4},
"encoding": {
"x": {"field": "day", "type": "quantitative",
"scale": {"domain": [-0.5, 364.5], "nice": false, "zero": false},
"axis": {"values": [10,38,66,95,124,152,180,208,235,263,292,320,349],
"labelExpr": "['Jan','Feb','Mar','Apr','May','Jun','Jun','Jul','Aug','Sep','Oct','Nov','Dec'][indexof([10,38,66,95,124,152,180,208,235,263,292,320,349], datum.value)]",
"title": null, "grid": false, "domain": false, "ticks": false,
"labelFont": "Open Sans", "labelFontSize": 11, "labelColor": "#808080", "labelPadding": 10}},
"y": {"field": "bLo", "type": "quantitative",
"scale": {"domain": [0, 30], "nice": false},
"axis": {"values": [0,5,10,15,20,25,30], "title": "Operative Temperature [°c]",
"titleFont": "Lato", "titleFontSize": 20, "titleFontWeight": "normal", "titleColor": "#111111",
"titleAngle": -90, "titleX": -58, "titleY": 231, "titleAlign": "center", "titleBaseline": "middle",
"domain": false, "ticks": false, "gridColor": "#e3e3e3", "gridWidth": 1,
"labelFont": "Roboto", "labelFontSize": 12, "labelColor": "#666666", "labelPadding": 13}},
"y2": {"field": "bHi"},
"color": {"datum": "Baseline System",
"scale": {"domain": ["Baseline System", "Novel System"], "range": ["#e9ae36", "#5b4e26"]},
"legend": {"orient": "none", "direction": "horizontal", "legendX": 355, "legendY": 555,
"title": null, "symbolType": "stroke", "symbolStrokeWidth": 4, "symbolSize": 2100,
"labelFont": "Lato", "labelFontSize": 21, "labelColor": "#333333", "labelOffset": 17,
"columnPadding": 72, "labelLimit": 300}}
}
},
{
"mark": {"type": "rule", "strokeWidth": 3.4},
"encoding": {
"x": {"field": "day", "type": "quantitative"},
"y": {"field": "nLo", "type": "quantitative"},
"y2": {"field": "nHi"},
"color": {"datum": "Novel System"}
}
},
{
"data": {"values": [{"limit": 26, "label": "26 °C"}]},
"mark": {"type": "rule", "color": "#d4672c", "strokeWidth": 2},
"encoding": {"y": {"field": "limit", "type": "quantitative"}}
},
{
"data": {"values": [{"limit": 26, "label": "26 °C"}]},
"mark": {"type": "text", "align": "right", "baseline": "middle", "dx": -9, "fontSize": 14, "font": "Liberation Sans", "color": "#222222"},
"encoding": {"x": {"datum": -0.5, "type": "quantitative"}, "y": {"field": "limit", "type": "quantitative"}, "text": {"field": "label"}}
}
]
}
